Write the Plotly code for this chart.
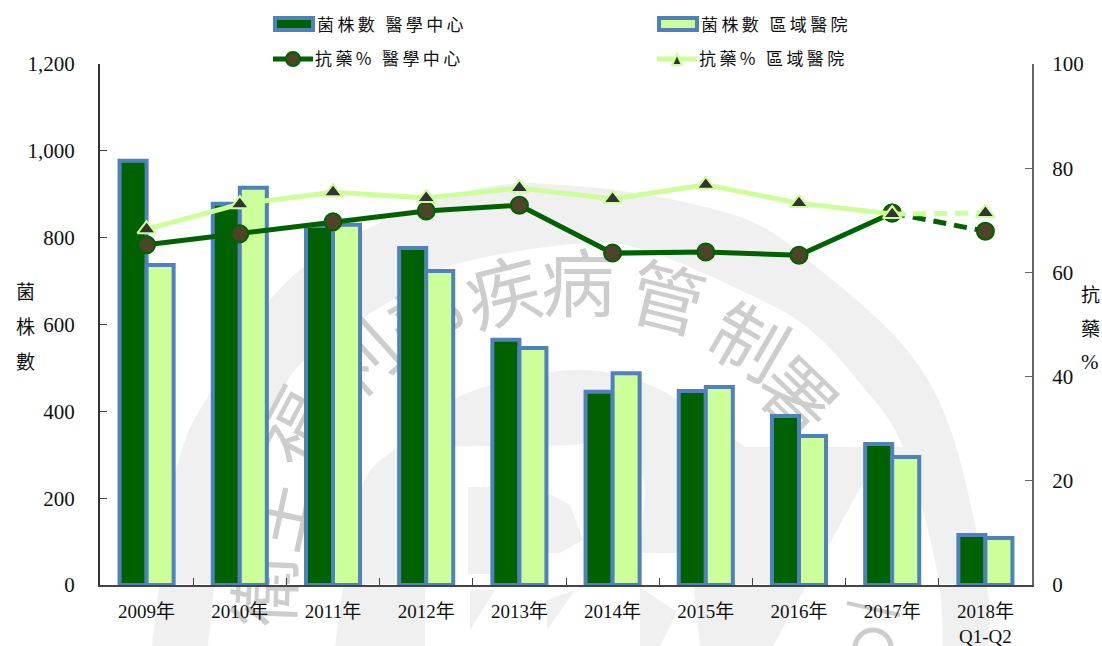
import plotly.graph_objects as go

years = ["2009年","2010年","2011年","2012年","2013年","2014年","2015年","2016年","2017年","2018年<br>Q1-Q2"]
count_med = [977,878,827,776,565,445,447,389,325,115]
count_reg = [737,915,830,723,546,488,456,343,295,108]
res_med = [65.3,67.4,69.7,71.8,72.9,63.7,63.9,63.3,71.4,67.9]
res_reg = [68.3,73.1,75.4,74.3,76.2,74.1,76.8,73.3,71.2,71.4]
name_a = "菌株數 醫學中心"
name_b = "菌株數 區域醫院"
name_c = "抗藥% 醫學中心"
name_d = "抗藥% 區域醫院"
DG="#006100"; LG="#CCFF99"; BL="#4F81BD"; CF="#4F4328"; TF="#333333"
SERIF="Liberation Serif, Noto Sans CJK TC"
SANS="Noto Sans CJK TC"
WM="#F0F0F0"; WT="#CDCDCD"

W,H=1102,646
L,R,T,B=100,1032,64,585
def px(x): return (x-L)/(R-L)
def py(y): return (B-y)/(B-T)

def poly(pts):
    return "M"+" L".join(f"{px(x):.5f},{py(y):.5f}" for x,y in pts)+" Z"
def smooth(pts):
    # closed outline, Catmull-Rom smoothing between consecutive points
    d=f"M{px(pts[0][0]):.5f},{py(pts[0][1]):.5f}"
    n=len(pts)
    for i in range(n-1):
        p0=pts[max(i-1,0)];p1=pts[i];p2=pts[i+1];p3=pts[min(i+2,n-1)]
        c1=(p1[0]+(p2[0]-p0[0])/6,p1[1]+(p2[1]-p0[1])/6)
        c2=(p2[0]-(p3[0]-p1[0])/6,p2[1]-(p3[1]-p1[1])/6)
        d+=f" C{px(c1[0]):.5f},{py(c1[1]):.5f} {px(c2[0]):.5f},{py(c2[1]):.5f} {px(p2[0]):.5f},{py(p2[1]):.5f}"
    return d+" Z"

shapes=[]
def area(path,color=WM):
    shapes.append(dict(type="path",path=path,xref="paper",yref="paper",fillcolor=color,line=dict(width=0),layer="below"))

# watermark logo behind the chart
ring_outer=[(152,646),(175,477),(210,393),(300,270),(460,193),(587,187),(740,217),(820,270),(907,350),(953,437),(987,587),(988,646)]
ring_inner=[(943,646),(937,570),(903,447),(863,387),(807,327),(740,290),(653,253),(587,243),(460,263),(397,297),(304,360),(268,423),(225,520),(208,646)]
d1=smooth(ring_outer)[:-2]
d2=smooth(ring_inner)[1:]
area(d1+" L"+d2)
arc=[(335,646),(360,493),(397,447),(453,400),(520,378),(587,370),(650,385),(700,415),(745,447)]
area(smooth(arc)[:-2]+" L"+" L".join(f"{px(x):.5f},{py(y):.5f}" for x,y in [(905,447),(915,490),(863,483),(773,646)])+" Z")
area(poly([(425,447),(575,445),(636,436),(645,490),(640,553),(690,553),(700,646),(425,646)]),"white")
area(poly([(468,487),(490,487),(490,574),(468,574)]))
area(poly([(548,493),(570,505),(583,540),(560,553),(548,553)]))
area(poly([(470,590),(495,590),(470,630)]))
area(poly([(575,590),(547,630),(547,600)]))
area(poly([(640,587),(677,612),(660,646),(640,646)]))

watermark=[("衛",272,590,-88),("生",283,515,-78),("福",302,430,-62),("利",365,365,-42),("部",430,325,-28),
           ("疾",505,300,-14),("病",578,290,0),("管",665,305,14),("制",745,348,30),("署",792,402,44)]
for ch,cx,cy,ang in watermark:
    shapes.append(dict(type="rect",xref="paper",yref="paper",x0=px(cx-40),x1=px(cx+40),y0=py(cy+40),y1=py(cy-40),
        line=dict(width=0),fillcolor="rgba(0,0,0,0)",layer="below",
        label=dict(text=ch,textangle=ang,textposition="middle center",font=dict(family=SANS,size=74,color=WT))))
shapes.append(dict(type="circle",xref="paper",yref="paper",x0=px(855),x1=px(891),y0=py(666),y1=py(630),line=dict(color=WT,width=5),fillcolor="rgba(0,0,0,0)",layer="below"))
shapes.append(dict(type="line",xref="paper",yref="paper",x0=px(847),x1=px(900),y0=py(603),y1=py(615),line=dict(color=WT,width=4),layer="below"))

# legend keys
def key_bar(x0,y,fill):
    shapes.append(dict(type="rect",xref="paper",yref="paper",x0=px(x0),x1=px(x0+38),y0=py(y+6),y1=py(y-6),fillcolor=fill,line=dict(color=BL,width=4)))
def key_line(x0,y,color):
    shapes.append(dict(type="line",xref="paper",yref="paper",x0=px(x0),x1=px(x0+40),y0=py(y),y1=py(y),line=dict(color=color,width=5)))
key_bar(275,24,DG); key_bar(659,24,LG)
key_line(273,59,DG); key_line(657,59,LG)
shapes.append(dict(type="circle",xref="paper",yref="paper",x0=px(286),x1=px(300),y0=py(66),y1=py(52),fillcolor=CF,line=dict(color=DG,width=2)))
shapes.append(dict(type="path",xref="paper",yref="paper",path=poly([(677,54),(682,65),(672,65)]),fillcolor=TF,line=dict(color=LG,width=2)))

fig=go.Figure()
fig.add_bar(x=years,y=count_med,name=name_a,showlegend=False,marker=dict(color=DG,line=dict(color=BL,width=4)))
fig.add_bar(x=years,y=count_reg,name=name_b,showlegend=False,marker=dict(color=LG,line=dict(color=BL,width=4)))
circ=dict(symbol="circle",size=17,color=CF,line=dict(color=DG,width=2))
tri=dict(symbol="triangle-up",size=16,color=TF,line=dict(color=LG,width=2))
fig.add_scatter(x=years[8:],y=res_med[8:],yaxis="y2",mode="lines+markers",showlegend=False,line=dict(color=DG,width=5,dash="13px,8px"),marker=circ)
fig.add_scatter(x=years[:9],y=res_med[:9],yaxis="y2",mode="lines+markers",name=name_c,showlegend=False,line=dict(color=DG,width=5),marker=circ)
fig.add_scatter(x=years[8:],y=res_reg[8:],yaxis="y2",mode="lines+markers",showlegend=False,line=dict(color=LG,width=5,dash="13px,8px"),marker=tri)
fig.add_scatter(x=years[:9],y=res_reg[:9],yaxis="y2",mode="lines+markers",name=name_d,showlegend=False,line=dict(color=LG,width=5),marker=tri)

AX="#444444"
fig.update_layout(
 width=W,height=H,autosize=False,margin=dict(l=L,r=W-R,t=T,b=H-B),
 paper_bgcolor="white",plot_bgcolor="rgba(0,0,0,0)",
 barmode="group",bargap=0.42,bargroupgap=0,showlegend=False,
 font=dict(family=SERIF,size=18,color="#111111"),shapes=shapes,
 xaxis=dict(type="category",showgrid=False,ticks="inside",ticklen=7,tickwidth=1,tickcolor=AX,tickson="boundaries",ticklabelstandoff=8,
   showline=True,linecolor=AX,linewidth=2,tickfont=dict(size=19),range=[-0.5,9.5],automargin=False),
 yaxis=dict(range=[0,1200],dtick=200,tickformat=",d",showgrid=False,ticks="inside",ticklen=7,tickcolor=AX,ticklabelstandoff=19,showline=True,linecolor="#333333",linewidth=2,tickfont=dict(size=21),automargin=False),
 yaxis2=dict(range=[0,100],dtick=20,overlaying="y",side="right",showgrid=False,ticks="inside",ticklen=7,tickcolor="#666666",ticklabelstandoff=14,showline=True,linecolor="#666666",linewidth=2,tickfont=dict(size=21),automargin=False),
)
def note(text,x,y,size=19,family=SANS,anchor="center"):
    fig.add_annotation(text=text,xref="paper",yref="paper",x=px(x),y=py(y),xanchor=anchor,yanchor="middle",showarrow=False,font=dict(family=family,size=size,color="#111111"))
for ch,y in zip("菌株數",[290,325,360]): note(ch,25,y)
for ch,y in zip("抗藥",[293,327]): note(ch,1090,y)
note("%",1090,362,size=21,family=SERIF)
sp=lambda s:"\u2009".join(s)
note(sp(name_a),315,23,size=17,anchor="left")
note(sp(name_b),699,23,size=17,anchor="left")
note(sp(name_c),313,58,size=17,anchor="left")
note(sp(name_d),697,58,size=17,anchor="left")
fig.write_html("out.html",config=dict(displayModeBar=False),post_script="document.body.style.margin='0';document.documentElement.style.overflow='hidden';")
